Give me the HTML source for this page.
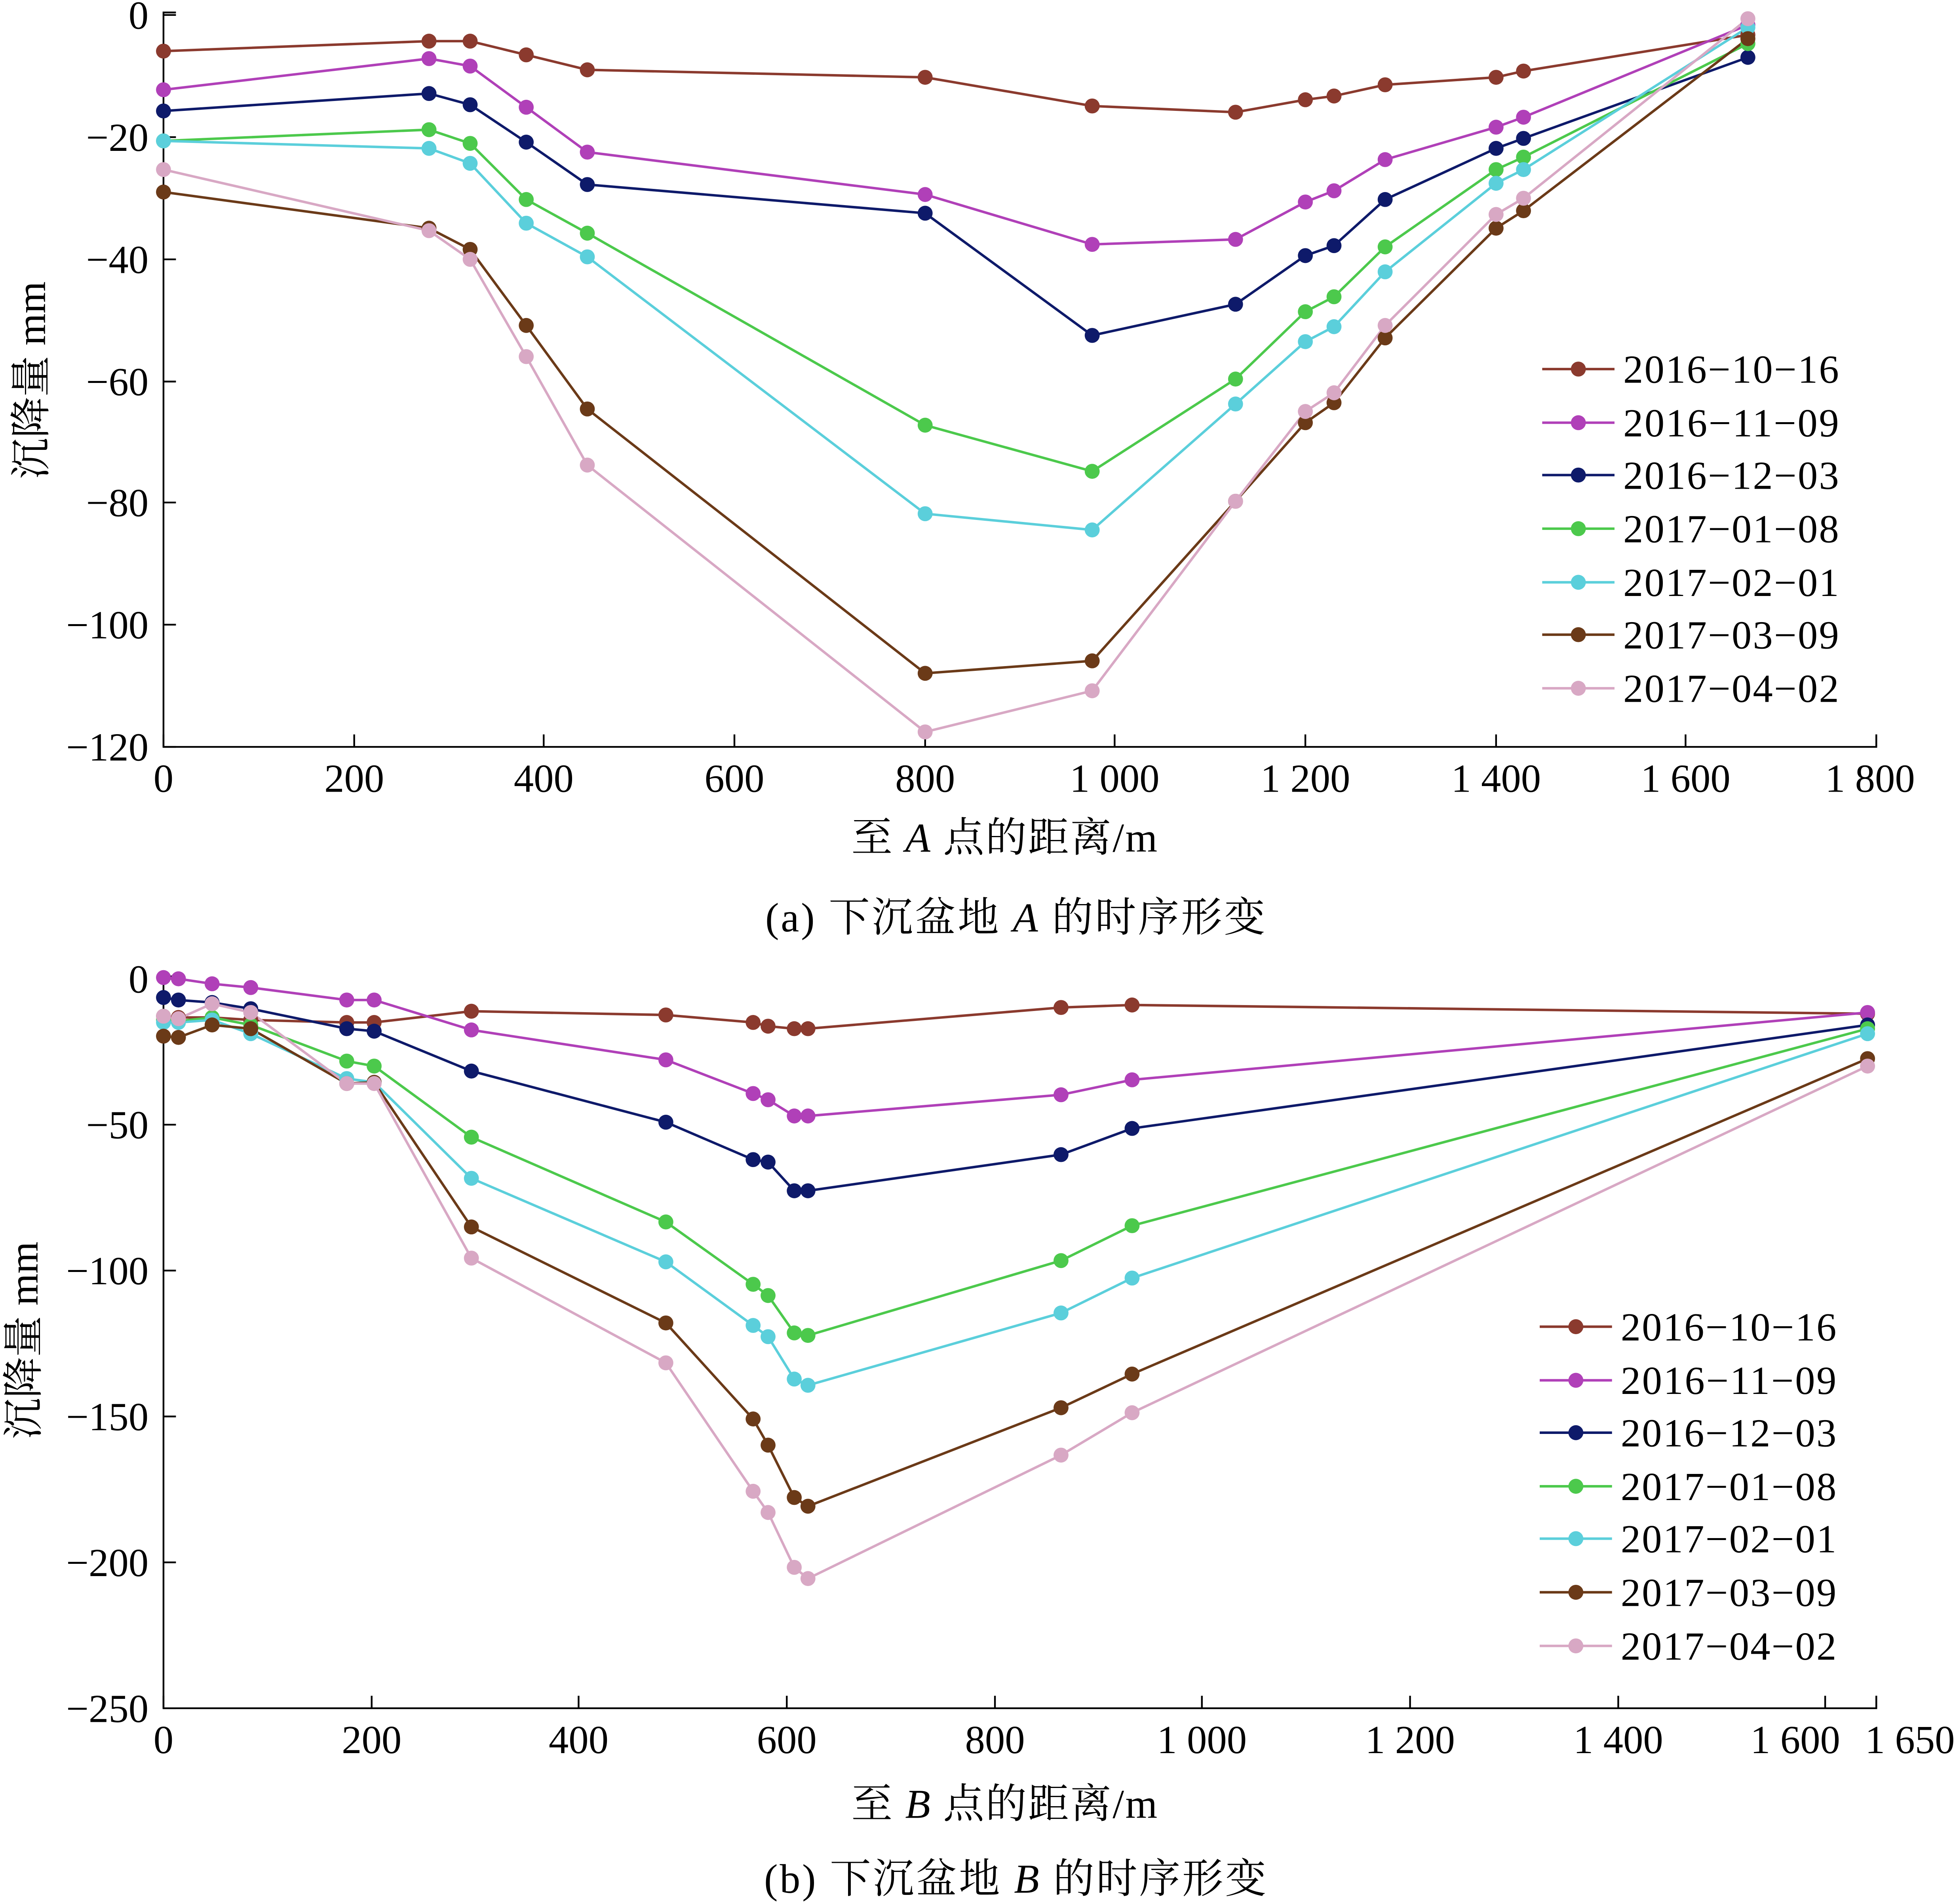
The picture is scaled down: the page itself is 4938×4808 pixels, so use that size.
<!DOCTYPE html>
<html><head><meta charset="utf-8"><style>
html,body{margin:0;padding:0;background:#fff;}
svg{display:block}
text{font-family:"Liberation Serif","Noto Serif CJK SC",serif;fill:#000}
</style></head><body>
<svg id="s" width="4938" height="4808" viewBox="0 0 1568 1527" xmlns="http://www.w3.org/2000/svg"></svg>
<script>
const S=document.getElementById('s');let h='';
const cols=['#8B3A2E','#B040B8','#0E1A6A','#4CC94C','#5BCFDB','#6B3A18','#D8A8C4'];
const names=['2016\u221210\u221216','2016\u221211\u221209','2016\u221212\u221203','2017\u221201\u221208','2017\u221202\u221201','2017\u221203\u221209','2017\u221204\u221202'];
function series(xs,ys){ys.forEach((yy,i)=>{const pts=xs.map((x,j)=>x+','+yy[j]).join(' ');
h+=`<polyline points="${pts}" fill="none" stroke="${cols[i]}" stroke-width="2"/>`;});
ys.forEach((yy,i)=>{xs.forEach((x,j)=>{h+=`<circle cx="${x}" cy="${yy[j]}" r="6" fill="${cols[i]}"/>`;});});}
function legend(x0,tx,rows){rows.forEach((y,i)=>{h+=`<line x1="${x0}" y1="${y}" x2="${x0+58}" y2="${y}" stroke="${cols[i]}" stroke-width="2"/><circle cx="${x0+29}" cy="${y}" r="6" fill="${cols[i]}"/><text x="${tx}" y="${y+11}" font-size="32" textLength="173" lengthAdjust="spacing">${names[i]}</text>`;});}
function axes(top,bot,right,yt,xt){
h+=`<path d="M141,${top} H131 V${bot} H${right} V${bot-10}" fill="none" stroke="#000" stroke-width="1.4"/>`;
yt.forEach(([y,l])=>{h+=`<line x1="131" y1="${y}" x2="141" y2="${y}" stroke="#000" stroke-width="1.4"/><text x="119" y="${y+11}" font-size="32" text-anchor="end">${l}</text>`;});
xt.forEach(([x,l,lx])=>{h+=`<line x1="${x}" y1="${bot}" x2="${x}" y2="${bot-10}" stroke="#000" stroke-width="1.4"/><text x="${lx||x}" y="${bot+36}" font-size="32" text-anchor="middle">${l}</text>`;});}
// chart a
axes(10,599,1505,[[12,'0'],[110,'\u221220'],[208,'\u221240'],[306,'\u221260'],[403,'\u221280'],[501,'\u2212100'],[599,'\u2212120']],
[[131,'0'],[284,'200'],[436,'400'],[589,'600'],[742,'800'],[894,'1 000'],[1047,'1 200'],[1200,'1 400'],[1352,'1 600'],[1505,'1 800',1500]]);
series([131,344,377,422,471,742,876,991,1047,1070,1111,1200,1222,1402],[
[41,33,33,44,56,62,85,90,80,77,68,62,57,28],
[72,47,53,86,122,156,196,192,162,153,128,102,94,20],
[89,75,84,114,148,171,269,244,205,197,160,119,111,46],
[113,104,115,160,187,341,378,304,250,238,198,136,126,35],
[113,119,131,179,206,412,425,324,274,262,218,147,136,22],
[154,183,200,261,328,540,530,402,339,323,271,183,169,31],
[136,185,208,286,373,587,554,402,330,315,261,172,159,15]]);
legend(1237,1302,[296,339,381,424,467,509,552]);
h+=`<text x="806" y="683" font-size="33" text-anchor="middle" letter-spacing="1">至 <tspan font-style="italic">A</tspan> 点的距离/m</text>`;
h+=`<text x="815" y="747" font-size="33" text-anchor="middle" letter-spacing="1.5">(a)  下沉盆地 <tspan font-style="italic">A</tspan> 的时序形变</text>`;
h+=`<text transform="translate(36,305) rotate(-90)" font-size="33" text-anchor="middle">沉降量 mm</text>`;
// chart b
axes(783,1370,1505,[[785,'0'],[902,'\u221250'],[1019,'\u2212100'],[1136,'\u2212150'],[1253,'\u2212200'],[1370,'\u2212250']],
[[131,'0'],[298,'200'],[464,'400'],[631,'600'],[798,'800'],[964,'1 000'],[1131,'1 200'],[1298,'1 400'],[1464,'1 600',1440],[1505,'1 650',1532]]);
series([131,143,170,201,278,300,378,534,604,616,637,648,851,908,1498],[
[815,816,816,818,820,820,811,814,820,823,825,825,808,806,813],
[784,785,789,792,802,802,826,850,877,882,895,895,878,866,812],
[800,802,804,809,825,827,859,900,930,932,955,955,926,905,822],
[818,819,816,822,851,855,912,980,1030,1039,1069,1071,1011,983,825],
[820,820,818,829,865,868,945,1012,1063,1072,1106,1111,1053,1025,829],
[831,832,822,825,869,868,984,1061,1138,1159,1201,1208,1129,1102,849],
[815,817,805,812,869,869,1009,1093,1196,1213,1257,1266,1167,1133,855]]);
legend(1235,1300,[1064,1107,1149,1192,1234,1277,1320]);
h+=`<text x="806" y="1458" font-size="33" text-anchor="middle" letter-spacing="1">至 <tspan font-style="italic">B</tspan> 点的距离/m</text>`;
h+=`<text x="815" y="1518" font-size="33" text-anchor="middle" letter-spacing="1.5">(b)  下沉盆地 <tspan font-style="italic">B</tspan> 的时序形变</text>`;
h+=`<text transform="translate(30,1075) rotate(-90)" font-size="33" text-anchor="middle">沉降量 mm</text>`;
S.innerHTML=h;
</script>
</body></html>
